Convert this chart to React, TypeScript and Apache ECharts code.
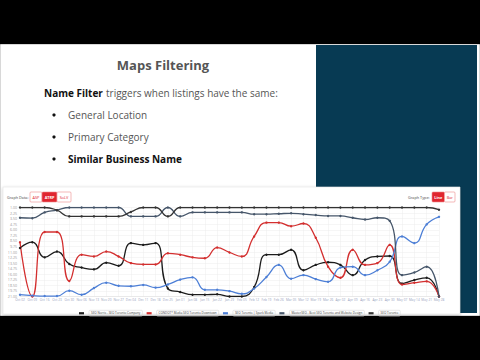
import React, { useEffect, useRef } from "react";
import * as echarts from "echarts";

const dates = [
  "Oct 02", "Oct 09", "Oct 16", "Oct 23", "Oct 30",
  "Nov 06", "Nov 13", "Nov 20", "Nov 27", "Dec 04",
  "Dec 11", "Dec 18", "Dec 25", "Jan 01", "Jan 08",
  "Jan 15", "Jan 22", "Jan 29", "Feb 05", "Feb 12",
  "Feb 19", "Feb 26", "Mar 05", "Mar 12", "Mar 19",
  "Mar 26", "Apr 02", "Apr 09", "Apr 16", "Apr 23",
  "Apr 30", "May 07", "May 14", "May 21", "May 28",
];

const seriesNames = [
  "SEO Norris - SEO Toronto Company",
  "CONDOT* Media SEO Toronto Downtown",
  "SEO Toronto | Spark Media",
  "MasterSEO - Best SEO Toronto and Website Design",
  "SEO Toronto",
];

const norris = [10.1, 8.8, 12.2, 10.9, 13.7, 14.5, 14.9, 13.4, 14.1, 9.0, 9.4, 9.0, 19.2, 20.0, 20.6, 20.6, 20.5, 21, 21, 18.9, 11.6, 11.6, 10.5, 15.1, 13.9, 13.3, 13.9, 16.2, 12.8, 12.0, 11.9, 18.1, 17.3, 16.8, 21];
const condot = [8.8, 21, 6.5, 6.5, 17.5, 11.6, 12.0, 10.9, 12.0, 13.5, 13.8, 13.8, 11.3, 11.6, 12.2, 12.4, 10.0, 11.1, 12.0, 7.5, 4.4, 4.4, 5.2, 4.6, 7.8, 14.3, 16.8, 10.5, 13.9, 13.5, 9.4, 18.3, 17.9, 17.6, 21];
const spark = [20.6, 20.8, 20.9, 20.9, 19.7, 20.6, 19.1, 17.9, 18.6, 18.7, 18.4, 19.0, 18.3, 17.2, 16.7, 19.5, 19.5, 19.8, 20.4, 19.2, 16.6, 13.9, 17.0, 16.2, 17.1, 17.7, 14.5, 14.3, 16.2, 15.1, 13.2, 7.5, 9.0, 4.8, 3.1];
const masterSeo = [3.3, 3.4, 2.1, 1.6, 1, 1, 1, 1, 1, 3, 3, 3, 1, 3, 2.1, 2.1, 2.1, 2.1, 2.1, 2.5, 2.5, 2.4, 2.3, 2.5, 2.7, 2.9, 2.9, 3.3, 3.7, 3.3, 4.0, 16.2, 15.6, 14.3, 21];
const seoToronto = [1, 1, 1, 1.6, 3, 3, 3, 3, 3, 2, 1, 1, 3, 1, 1, 1, 1, 1, 1, 1, 1, 1, 1, 1, 1, 1, 1, 1, 1, 1, 1, 1, 1, 1, 1.5];

const seriesData = [norris, condot, spark, masterSeo, seoToronto];
const seriesColors = ["#1c1c1c", "#d32f2f", "#4d7fd6", "#46566a", "#333333"];

const FONT = "'Open Sans', 'Noto Sans', sans-serif";

export default function App() {
  const ref = useRef<HTMLDivElement>(null);
  useEffect(() => {
    if (!ref.current) return;
    const chart = echarts.init(ref.current, null, { renderer: "svg" });

    const smallText = (text: string, x: number, y: number, color: string) => ({
      type: "text",
      x,
      y,
      z: 20,
      style: { text, fill: color, fontSize: 3.8, fontFamily: FONT, verticalAlign: "middle" },
    });

    const button = (text: string, x: number, w: number, filled: boolean) => [
      {
        type: "rect",
        z: 21,
        shape: { x, y: 192, width: w, height: 10, r: 1 },
        style: { fill: filled ? "#e0262f" : "#fff", stroke: "#ec8a8a", lineWidth: 0.6 },
      },
      {
        type: "text",
        z: 22,
        x: x + w / 2,
        y: 197,
        style: { text, fill: filled ? "#fff" : "#e0262f", fontSize: 3.8, fontFamily: FONT, align: "center", verticalAlign: "middle", fontWeight: filled ? "bold" : "normal" },
      },
    ];

    chart.setOption({
      animation: false,
      backgroundColor: "#000",
      graphic: [
        { type: "rect", z: 0, shape: { x: 0.5, y: 44.5, width: 479, height: 271 }, style: { fill: "#fff", stroke: "#d8d8d8", lineWidth: 1 } },
        { type: "rect", z: 1, shape: { x: 316, y: 45, width: 161, height: 268 }, style: { fill: "#073a53" } },
        {
          type: "text", z: 2, x: 163, y: 65,
          style: { text: "Maps Filtering", fill: "#555", fontSize: 13, fontWeight: "bold", fontFamily: FONT, align: "center", verticalAlign: "middle" },
        },
        {
          type: "text", z: 2, x: 44, y: 93,
          style: {
            text: "{b|Name Filter} {n|triggers when listings have the same:}",
            fontFamily: FONT, verticalAlign: "middle",
            rich: {
              b: { fill: "#111", fontSize: 10, fontWeight: "bold", fontFamily: FONT },
              n: { fill: "#555", fontSize: 10, fontFamily: FONT },
            },
          },
        },
        { type: "circle", z: 2, shape: { cx: 54, cy: 115, r: 1.6 }, style: { fill: "#111" } },
        { type: "circle", z: 2, shape: { cx: 54, cy: 137, r: 1.6 }, style: { fill: "#111" } },
        { type: "circle", z: 2, shape: { cx: 54, cy: 159, r: 1.6 }, style: { fill: "#111" } },
        { type: "text", z: 2, x: 68, y: 115, style: { text: "General Location", fill: "#555", fontSize: 10, fontFamily: FONT, verticalAlign: "middle" } },
        { type: "text", z: 2, x: 68, y: 137, style: { text: "Primary Category", fill: "#555", fontSize: 10, fontFamily: FONT, verticalAlign: "middle" } },
        { type: "text", z: 2, x: 68, y: 159, style: { text: "Similar Business Name", fill: "#111", fontSize: 10, fontWeight: "bold", fontFamily: FONT, verticalAlign: "middle" } },
        {
          type: "rect", z: 3, shape: { x: 3, y: 187, width: 457, height: 127 },
          style: { fill: "#fff", stroke: "#e4e4e4", lineWidth: 0.6, shadowBlur: 3, shadowColor: "rgba(0,0,0,0.25)", shadowOffsetY: 1 },
        },
        smallText("Graph Data:", 7, 197, "#444"),
        ...button("ASP", 30, 12, false),
        ...button("ATRP", 42, 15, true),
        ...button("SoLV", 57, 14, false),
        smallText("Graph Type:", 408, 197, "#444"),
        ...button("Line", 432, 12.5, true),
        ...button("Bar", 444.5, 10.5, false),
      ],
      grid: { left: 20, right: 41, top: 207.5, bottom: 63.5, z: 10 },
      legend: {
        data: seriesNames,
        top: 305,
        left: 74,
        width: 400,
        itemWidth: 5,
        itemHeight: 2.2,
        itemGap: 4,
        icon: "rect",
        z: 20,
        textStyle: { fontSize: 3, color: "#444", fontFamily: FONT, borderColor: "#d0d0d0", borderWidth: 0.5, padding: [1.5, 2], borderRadius: 1 },
      },
      xAxis: {
        type: "category",
        data: dates,
        boundaryGap: false,
        z: 10,
        axisLine: { lineStyle: { color: "#ddd", width: 0.5 } },
        axisTick: { show: false },
        axisLabel: { interval: 0, fontSize: 3.2, color: "#9aa4c0", margin: 2, fontFamily: FONT },
        splitLine: { show: true, lineStyle: { color: "#ececec", width: 0.5 } },
      },
      yAxis: {
        type: "value",
        inverse: true,
        min: 1,
        max: 21,
        interval: 1.25,
        z: 10,
        axisLine: { show: false },
        axisTick: { show: false },
        axisLabel: { fontSize: 3.6, color: "#999", margin: 3, fontFamily: FONT, formatter: (v: number) => v.toFixed(2) },
        splitLine: { show: true, lineStyle: { color: "#ececec", width: 0.5 } },
      },
      series: seriesData.map((d, i) => ({
        name: seriesNames[i],
        type: "line",
        data: d,
        smooth: true,
        z: 12,
        symbol: "circle",
        symbolSize: 2.4,
        showSymbol: true,
        lineStyle: { width: 1.3, color: seriesColors[i] },
        itemStyle: { color: seriesColors[i] },
      })),
    });
    return () => chart.dispose();
  }, []);
  return <div ref={ref} style={{ position: "fixed", left: 0, top: 0, width: 480, height: 360 }} />;
}
